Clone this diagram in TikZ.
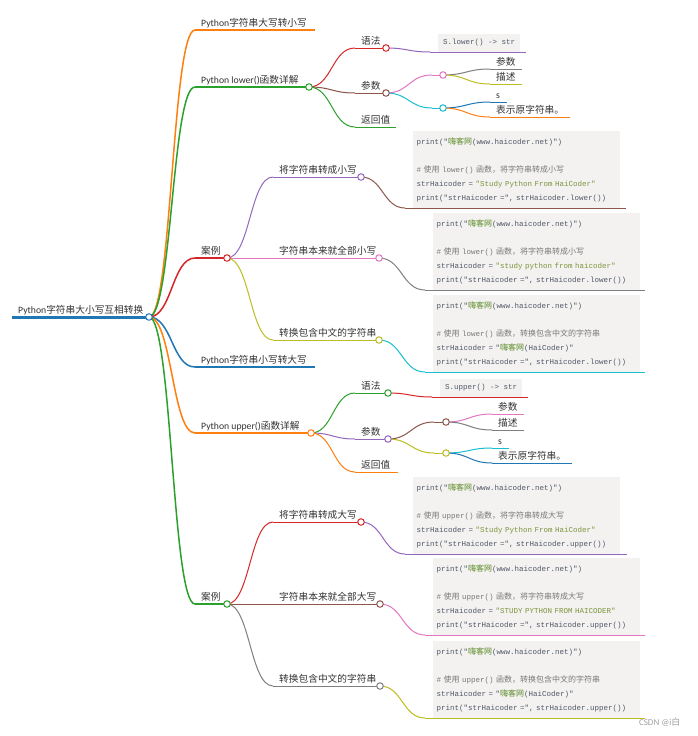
\documentclass[tikz,border=0pt]{standalone}
\usepackage{fontspec}
\usepackage{xcolor}
\usepackage{tikz}
\usetikzlibrary{calc}
\setmainfont{Noto Sans CJK SC}
\setmonofont{Liberation Mono}
\newfontfamily\cjk{Noto Sans CJK SC}
\newfontfamily\lat{Carlito}
\definecolor{mmblue}{RGB}{31,119,180}
\definecolor{mmorange}{RGB}{255,127,14}
\definecolor{mmgreen}{RGB}{44,160,44}
\definecolor{mmred}{RGB}{214,39,40}
\definecolor{mmpurple}{RGB}{148,103,189}
\definecolor{mmbrown}{RGB}{140,86,75}
\definecolor{mmpink}{RGB}{227,119,194}
\definecolor{mmgray}{RGB}{127,127,127}
\definecolor{mmolive}{RGB}{188,189,34}
\definecolor{mmcyan}{RGB}{23,190,207}
\definecolor{lbltext}{RGB}{51,51,51}
\definecolor{codebg}{RGB}{244,242,240}
\definecolor{codetext}{RGB}{78,88,104}
\definecolor{codestr}{RGB}{122,148,60}
\definecolor{codecmt}{RGB}{120,120,120}
\definecolor{codezh}{RGB}{86,136,34}
\definecolor{wmgray}{RGB}{160,160,160}
\newcommand{\zh}[1]{{\cjk\fontsize{8}{14}\selectfont #1}}
\newcommand{\hk}{\textcolor{codezh}{\zh{嗨客网}}}
\newcommand{\hkline}{print("\hk(www.haicoder.net)")}
\tikzset{
  lbl/.style={anchor=base west, xshift=6pt, yshift=3.5pt, inner sep=0pt,
    text=lbltext, font=\fontsize{9.7}{11}\selectfont},
  knob/.style={circle, draw=#1, fill=white, minimum size=6.5pt,
    inner sep=0pt, line width=1pt},
  codebox/.style={anchor=south west, xshift=8pt, fill=codebg, text=codetext,
    align=left, text width=200pt, inner xsep=3.5pt, inner ysep=6pt,
    font=\ttfamily\fontsize{7.5}{14}\selectfont},
  codeone/.style={anchor=south west, xshift=8pt, fill=codebg, text=codetext,
    inner xsep=5pt, inner ysep=5.5pt, font=\ttfamily\fontsize{7.5}{9}\selectfont},
  lwtop/.style={line width=1.5pt},
  lwsub/.style={line width=1pt},
  mmlink/.style={to path={let \p1=(\tikztostart), \p2=(\tikztotarget) in
      .. controls ({(\x1+\x2)/2},\y1) and ({(\x1+\x2)/2},\y2) .. (\tikztotarget)}}
}

\begin{document}
\begin{tikzpicture}[x=1pt, y=-1pt]
  \useasboundingbox[fill=white] (0,0) rectangle (697,736);

  % underline start / end (knob) of every topic
  \coordinate (root) at (12,317);   \coordinate (root-e) at (149,317);
  \coordinate (t1) at (195,30);     \coordinate (t1-e) at (315,30);
  \coordinate (t2) at (195,87);     \coordinate (t2-e) at (309,87);
  \coordinate (t3) at (195,258);    \coordinate (t3-e) at (227,258);
  \coordinate (t4) at (195,367);    \coordinate (t4-e) at (315,367);
  \coordinate (t5) at (195,433);    \coordinate (t5-e) at (311,433);
  \coordinate (t6) at (195,604);    \coordinate (t6-e) at (227,604);

  \coordinate (t2a) at (355,48);    \coordinate (t2a-e) at (386,48);
  \coordinate (t2b) at (355,93);    \coordinate (t2b-e) at (386,93);
  \coordinate (t2c) at (355,127);   \coordinate (t2c-e) at (396,127);
  \coordinate (t2ax) at (430,52);   \coordinate (t2ax-e) at (526,52);
  \coordinate (t2ba) at (432,75);   \coordinate (t2ba-e) at (443,75);
  \coordinate (t2bb) at (432,108);  \coordinate (t2bb-e) at (443,108);
  \coordinate (t2baa) at (490,69);  \coordinate (t2baa-e) at (522,69);
  \coordinate (t2bab) at (490,84);  \coordinate (t2bab-e) at (522,84);
  \coordinate (t2bba) at (490,102); \coordinate (t2bba-e) at (507,102);
  \coordinate (t2bbb) at (490,117); \coordinate (t2bbb-e) at (570,117);

  \coordinate (t3a) at (273,177);   \coordinate (t3a-e) at (361,177);
  \coordinate (t3b) at (273,258);   \coordinate (t3b-e) at (379,258);
  \coordinate (t3c) at (273,340);   \coordinate (t3c-e) at (379,340);
  \coordinate (t3ax) at (405,208);  \coordinate (t3ax-e) at (626,208);
  \coordinate (t3bx) at (425,290);  \coordinate (t3bx-e) at (645,290);
  \coordinate (t3cx) at (425,372);  \coordinate (t3cx-e) at (645,372);

  \coordinate (t5a) at (355,393);   \coordinate (t5a-e) at (388,393);
  \coordinate (t5b) at (355,439);   \coordinate (t5b-e) at (388,439);
  \coordinate (t5c) at (355,472);   \coordinate (t5c-e) at (398,472);
  \coordinate (t5ax) at (432,397);  \coordinate (t5ax-e) at (528,397);
  \coordinate (t5ba) at (434,422);  \coordinate (t5ba-e) at (446,422);
  \coordinate (t5bb) at (434,453);  \coordinate (t5bb-e) at (446,453);
  \coordinate (t5baa) at (492,414); \coordinate (t5baa-e) at (524,414);
  \coordinate (t5bab) at (492,430); \coordinate (t5bab-e) at (524,430);
  \coordinate (t5bba) at (492,448); \coordinate (t5bba-e) at (509,448);
  \coordinate (t5bbb) at (492,463); \coordinate (t5bbb-e) at (572,463);

  \coordinate (t6a) at (273,522);   \coordinate (t6a-e) at (361,522);
  \coordinate (t6b) at (273,604);   \coordinate (t6b-e) at (380,604);
  \coordinate (t6c) at (273,686);   \coordinate (t6c-e) at (380,686);
  \coordinate (t6ax) at (405,554);  \coordinate (t6ax-e) at (627,554);
  \coordinate (t6bx) at (425,635);  \coordinate (t6bx-e) at (645,635);
  \coordinate (t6cx) at (425,718);  \coordinate (t6cx-e) at (645,718);

  % code boxes
  \node[codeone] (t2ax-box) at (t2ax) {S.lower() -> str};
  \node[codeone] (t5ax-box) at (t5ax) {S.upper() -> str};

  \node[codebox] (t3ax-box) at (t3ax) {\hkline\\[14pt]
    \textcolor{codecmt}{\# \zh{使用} lower() \zh{函数，将字符串转成小写}}\\
    strHaicoder = \textcolor{codestr}{"Study Python From HaiCoder"}\\
    print("strHaicoder =", strHaicoder.lower())};
  \node[codebox] (t3bx-box) at (t3bx) {\hkline\\[14pt]
    \textcolor{codecmt}{\# \zh{使用} lower() \zh{函数，将字符串转成小写}}\\
    strHaicoder = \textcolor{codestr}{"study python from haicoder"}\\
    print("strHaicoder =", strHaicoder.lower())};
  \node[codebox] (t3cx-box) at (t3cx) {\hkline\\[14pt]
    \textcolor{codecmt}{\# \zh{使用} lower() \zh{函数，转换包含中文的字符串}}\\
    strHaicoder = "\hk(HaiCoder)"\\
    print("strHaicoder =", strHaicoder.lower())};

  \node[codebox] (t6ax-box) at (t6ax) {\hkline\\[14pt]
    \textcolor{codecmt}{\# \zh{使用} upper() \zh{函数，将字符串转成大写}}\\
    strHaicoder = \textcolor{codestr}{"Study Python From HaiCoder"}\\
    print("strHaicoder =", strHaicoder.upper())};
  \node[codebox] (t6bx-box) at (t6bx) {\hkline\\[14pt]
    \textcolor{codecmt}{\# \zh{使用} upper() \zh{函数，将字符串转成大写}}\\
    strHaicoder = \textcolor{codestr}{"STUDY PYTHON FROM HAICODER"}\\
    print("strHaicoder =", strHaicoder.upper())};
  \node[codebox] (t6cx-box) at (t6cx) {\hkline\\[14pt]
    \textcolor{codecmt}{\# \zh{使用} upper() \zh{函数，转换包含中文的字符串}}\\
    strHaicoder = "\hk(HaiCoder)"\\
    print("strHaicoder =", strHaicoder.upper())};

  % links (colour of the child)
  \draw[mmorange, lwtop] (root-e) to[mmlink] (t1);
  \draw[mmgreen, lwtop] (root-e) to[mmlink] (t2);
  \draw[mmred, lwtop] (root-e) to[mmlink] (t3);
  \draw[mmblue, lwtop] (root-e) to[mmlink] (t4);
  \draw[mmorange, lwtop] (root-e) to[mmlink] (t5);
  \draw[mmgreen, lwtop] (root-e) to[mmlink] (t6);

  \draw[mmred, lwsub] (t2-e) to[mmlink] (t2a);
  \draw[mmbrown, lwsub] (t2-e) to[mmlink] (t2b);
  \draw[mmgreen, lwsub] (t2-e) to[mmlink] (t2c);
  \draw[mmpurple, lwsub] (t2a-e) to[mmlink] (t2ax);
  \draw[mmpink, lwsub] (t2b-e) to[mmlink] (t2ba);
  \draw[mmcyan, lwsub] (t2b-e) to[mmlink] (t2bb);
  \draw[mmgray, lwsub] (t2ba-e) to[mmlink] (t2baa);
  \draw[mmolive, lwsub] (t2ba-e) to[mmlink] (t2bab);
  \draw[mmblue, lwsub] (t2bb-e) to[mmlink] (t2bba);
  \draw[mmorange, lwsub] (t2bb-e) to[mmlink] (t2bbb);

  \draw[mmpurple, lwsub] (t3-e) to[mmlink] (t3a);
  \draw[mmpink, lwsub] (t3-e) to[mmlink] (t3b);
  \draw[mmolive, lwsub] (t3-e) to[mmlink] (t3c);
  \draw[mmbrown, lwsub] (t3a-e) to[mmlink] (t3ax);
  \draw[mmgray, lwsub] (t3b-e) to[mmlink] (t3bx);
  \draw[mmcyan, lwsub] (t3c-e) to[mmlink] (t3cx);

  \draw[mmgreen, lwsub] (t5-e) to[mmlink] (t5a);
  \draw[mmpurple, lwsub] (t5-e) to[mmlink] (t5b);
  \draw[mmorange, lwsub] (t5-e) to[mmlink] (t5c);
  \draw[mmred, lwsub] (t5a-e) to[mmlink] (t5ax);
  \draw[mmbrown, lwsub] (t5b-e) to[mmlink] (t5ba);
  \draw[mmolive, lwsub] (t5b-e) to[mmlink] (t5bb);
  \draw[mmpink, lwsub] (t5ba-e) to[mmlink] (t5baa);
  \draw[mmgray, lwsub] (t5ba-e) to[mmlink] (t5bab);
  \draw[mmcyan, lwsub] (t5bb-e) to[mmlink] (t5bba);
  \draw[mmblue, lwsub] (t5bb-e) to[mmlink] (t5bbb);

  \draw[mmred, lwsub] (t6-e) to[mmlink] (t6a);
  \draw[mmbrown, lwsub] (t6-e) to[mmlink] (t6b);
  \draw[mmgray, lwsub] (t6-e) to[mmlink] (t6c);
  \draw[mmpurple, lwsub] (t6a-e) to[mmlink] (t6ax);
  \draw[mmpink, lwsub] (t6b-e) to[mmlink] (t6bx);
  \draw[mmolive, lwsub] (t6c-e) to[mmlink] (t6cx);

  % underlines
  \draw[mmblue, line width=3pt] (root) -- (root-e);
  \draw[mmorange, lwtop] (t1) -- (t1-e);
  \draw[mmgreen, lwtop] (t2) -- (t2-e);
  \draw[mmred, lwtop] (t3) -- (t3-e);
  \draw[mmblue, lwtop] (t4) -- (t4-e);
  \draw[mmorange, lwtop] (t5) -- (t5-e);
  \draw[mmgreen, lwtop] (t6) -- (t6-e);

  \draw[mmred, lwsub] (t2a) -- (t2a-e);
  \draw[mmbrown, lwsub] (t2b) -- (t2b-e);
  \draw[mmgreen, lwsub] (t2c) -- (t2c-e);
  \draw[mmpurple, lwsub] (t2ax) -- (t2ax-e);
  \draw[mmpink, lwsub] (t2ba) -- (t2ba-e);
  \draw[mmcyan, lwsub] (t2bb) -- (t2bb-e);
  \draw[mmgray, lwsub] (t2baa) -- (t2baa-e);
  \draw[mmolive, lwsub] (t2bab) -- (t2bab-e);
  \draw[mmblue, lwsub] (t2bba) -- (t2bba-e);
  \draw[mmorange, lwsub] (t2bbb) -- (t2bbb-e);

  \draw[mmpurple, lwsub] (t3a) -- (t3a-e);
  \draw[mmpink, lwsub] (t3b) -- (t3b-e);
  \draw[mmolive, lwsub] (t3c) -- (t3c-e);
  \draw[mmbrown, lwsub] (t3ax) -- (t3ax-e);
  \draw[mmgray, lwsub] (t3bx) -- (t3bx-e);
  \draw[mmcyan, lwsub] (t3cx) -- (t3cx-e);

  \draw[mmgreen, lwsub] (t5a) -- (t5a-e);
  \draw[mmpurple, lwsub] (t5b) -- (t5b-e);
  \draw[mmorange, lwsub] (t5c) -- (t5c-e);
  \draw[mmred, lwsub] (t5ax) -- (t5ax-e);
  \draw[mmbrown, lwsub] (t5ba) -- (t5ba-e);
  \draw[mmolive, lwsub] (t5bb) -- (t5bb-e);
  \draw[mmpink, lwsub] (t5baa) -- (t5baa-e);
  \draw[mmgray, lwsub] (t5bab) -- (t5bab-e);
  \draw[mmcyan, lwsub] (t5bba) -- (t5bba-e);
  \draw[mmblue, lwsub] (t5bbb) -- (t5bbb-e);

  \draw[mmred, lwsub] (t6a) -- (t6a-e);
  \draw[mmbrown, lwsub] (t6b) -- (t6b-e);
  \draw[mmgray, lwsub] (t6c) -- (t6c-e);
  \draw[mmpurple, lwsub] (t6ax) -- (t6ax-e);
  \draw[mmpink, lwsub] (t6bx) -- (t6bx-e);
  \draw[mmolive, lwsub] (t6cx) -- (t6cx-e);

  % knobs
  \node[knob=mmblue] (root-k) at (root-e) {};
  \node[knob=mmgreen] (t2-k) at (t2-e) {};
  \node[knob=mmred] (t3-k) at (t3-e) {};
  \node[knob=mmorange] (t5-k) at (t5-e) {};
  \node[knob=mmgreen] (t6-k) at (t6-e) {};
  \node[knob=mmred] (t2a-k) at (t2a-e) {};
  \node[knob=mmbrown] (t2b-k) at (t2b-e) {};
  \node[knob=mmpink] (t2ba-k) at (t2ba-e) {};
  \node[knob=mmcyan] (t2bb-k) at (t2bb-e) {};
  \node[knob=mmpurple] (t3a-k) at (t3a-e) {};
  \node[knob=mmpink] (t3b-k) at (t3b-e) {};
  \node[knob=mmolive] (t3c-k) at (t3c-e) {};
  \node[knob=mmgreen] (t5a-k) at (t5a-e) {};
  \node[knob=mmpurple] (t5b-k) at (t5b-e) {};
  \node[knob=mmbrown] (t5ba-k) at (t5ba-e) {};
  \node[knob=mmolive] (t5bb-k) at (t5bb-e) {};
  \node[knob=mmred] (t6a-k) at (t6a-e) {};
  \node[knob=mmbrown] (t6b-k) at (t6b-e) {};
  \node[knob=mmgray] (t6c-k) at (t6c-e) {};

  % labels
  \node[lbl] (root-l) at (root) {{\lat Python}字符串大小写互相转换};
  \node[lbl] (t1-l) at (t1) {{\lat Python}字符串大写转小写};
  \node[lbl] (t2-l) at (t2) {{\lat Python lower()}函数详解};
  \node[lbl] (t3-l) at (t3) {案例};
  \node[lbl] (t4-l) at (t4) {{\lat Python}字符串小写转大写};
  \node[lbl] (t5-l) at (t5) {{\lat Python upper()}函数详解};
  \node[lbl] (t6-l) at (t6) {案例};

  \node[lbl] (t2a-l) at (t2a) {语法};
  \node[lbl] (t2b-l) at (t2b) {参数};
  \node[lbl] (t2c-l) at (t2c) {返回值};
  \node[lbl] (t2baa-l) at (t2baa) {参数};
  \node[lbl] (t2bab-l) at (t2bab) {描述};
  \node[lbl] (t2bba-l) at (t2bba) {\lat s};
  \node[lbl] (t2bbb-l) at (t2bbb) {表示原字符串。};
  \node[lbl] (t3a-l) at (t3a) {将字符串转成小写};
  \node[lbl] (t3b-l) at (t3b) {字符串本来就全部小写};
  \node[lbl] (t3c-l) at (t3c) {转换包含中文的字符串};

  \node[lbl] (t5a-l) at (t5a) {语法};
  \node[lbl] (t5b-l) at (t5b) {参数};
  \node[lbl] (t5c-l) at (t5c) {返回值};
  \node[lbl] (t5baa-l) at (t5baa) {参数};
  \node[lbl] (t5bab-l) at (t5bab) {描述};
  \node[lbl] (t5bba-l) at (t5bba) {\lat s};
  \node[lbl] (t5bbb-l) at (t5bbb) {表示原字符串。};
  \node[lbl] (t6a-l) at (t6a) {将字符串转成大写};
  \node[lbl] (t6b-l) at (t6b) {字符串本来就全部大写};
  \node[lbl] (t6c-l) at (t6c) {转换包含中文的字符串};

  \node[anchor=east, text=wmgray, font=\fontsize{9}{10}\selectfont] (mark) at (684,722) {{\lat CSDN @i}白};
\end{tikzpicture}
\end{document}
